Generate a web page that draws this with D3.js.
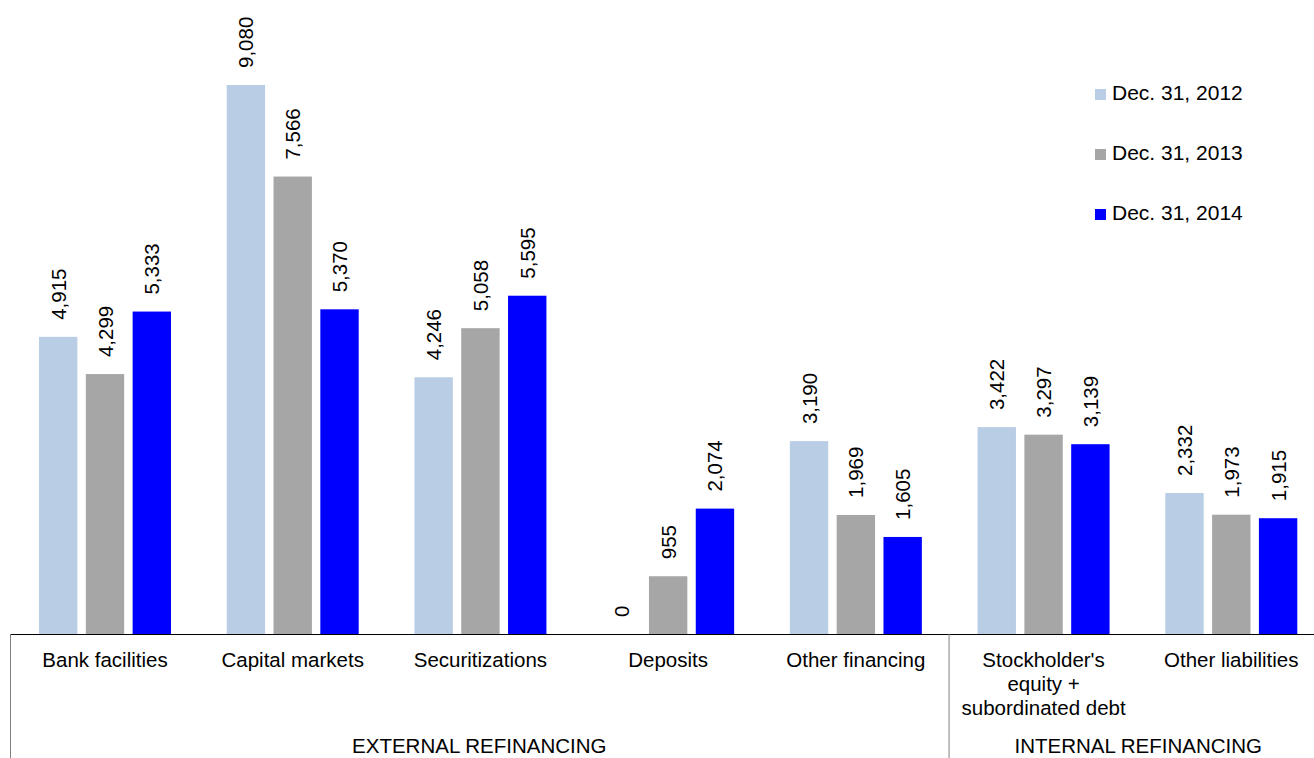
<!DOCTYPE html>
<meta charset="utf-8">
<script src="https://cdn.jsdelivr.net/npm/d3@7"></script>
<style>
  body { margin: 0; background: #fff; }
  text { font-family: "Liberation Sans", Arial, sans-serif; fill: #000; }
</style>
<div id="vis"></div>
<script>
const categories = ["Bank facilities", "Capital markets", "Securitizations", "Deposits", "Other financing", "Stockholder's|equity +|subordinated debt", "Other liabilities"]
const series = ["Dec. 31, 2012", "Dec. 31, 2013", "Dec. 31, 2014"]
const v2012 = [4915, 9080, 4246, 0, 3190, 3422, 2332]
const v2013 = [4299, 7566, 5058, 955, 1969, 3297, 1973]
const v2014 = [5333, 5370, 5595, 2074, 1605, 3139, 1915]
const groups = [
  {name: "EXTERNAL REFINANCING", from: 0, to: 5},
  {name: "INTERNAL REFINANCING", from: 5, to: 7}
]
const colors = ["#B9CDE5", "#A6A6A6", "#0000FF"]

const W = 1314, H = 758
const base = 634
const fs = 20.5
const values = [v2012, v2013, v2014]

const svg = d3.select("#vis").append("svg")
  .attr("width", W).attr("height", H)

const x = d3.scaleBand().domain(categories).range([10, 1324]).paddingInner(0).paddingOuter(0)
const xs = d3.scaleBand().domain(series).range([29, 161]).paddingInner(0.18)
const y = d3.scaleLinear().domain([0, 9080]).range([base, 85])

const rows = []
categories.forEach((c, i) => series.forEach((s, j) => rows.push({c, s, j, v: values[j][i]})))

const g = svg.append("g")
g.selectAll("rect").data(rows).enter().append("rect")
  .attr("x", d => x(d.c) + xs(d.s))
  .attr("y", d => y(d.v))
  .attr("width", xs.bandwidth())
  .attr("height", d => base - y(d.v))
  .attr("fill", d => colors[d.j])

g.selectAll("text.val").data(rows).enter().append("text")
  .attr("class", "val")
  .attr("transform", d => `translate(${x(d.c) + xs(d.s) + xs.bandwidth() / 2 + 7.5},${y(d.v) - 17}) rotate(-90)`)
  .attr("font-size", fs)
  .text(d => d3.format(",")(d.v))

// axis line and group separators
svg.append("line").attr("x1", 10).attr("x2", W).attr("y1", base + 0.5).attr("y2", base + 0.5)
  .attr("stroke", "#000").attr("stroke-width", 1)
svg.append("line").attr("x1", 10.5).attr("x2", 10.5).attr("y1", base).attr("y2", H)
  .attr("stroke", "#808080")
svg.append("line").attr("x1", x(categories[5]) + 0.5).attr("x2", x(categories[5]) + 0.5).attr("y1", base).attr("y2", H)
  .attr("stroke", "#808080")

// category labels
categories.forEach(c => {
  const t = svg.append("text").attr("text-anchor", "middle").attr("font-size", fs)
    .attr("x", x(c) + 95).attr("y", 667)
  c.split("|").forEach((line, k) => t.append("tspan").attr("x", x(c) + 95).attr("dy", k ? 24 : 0).text(line))
})

// group labels
groups.forEach(gr => {
  const x0 = x(categories[gr.from])
  const x1 = gr.to < categories.length ? x(categories[gr.to]) : 1328
  svg.append("text").attr("text-anchor", "middle").attr("font-size", fs)
    .attr("x", (x0 + x1) / 2).attr("y", 753).text(gr.name)
})

// legend
series.forEach((s, i) => {
  svg.append("rect").attr("x", 1095).attr("y", 89 + i * 60).attr("width", 11).attr("height", 11).attr("fill", colors[i])
  svg.append("text").attr("x", 1112).attr("y", 100 + i * 60).attr("font-size", 21).text(s)
})
</script>
